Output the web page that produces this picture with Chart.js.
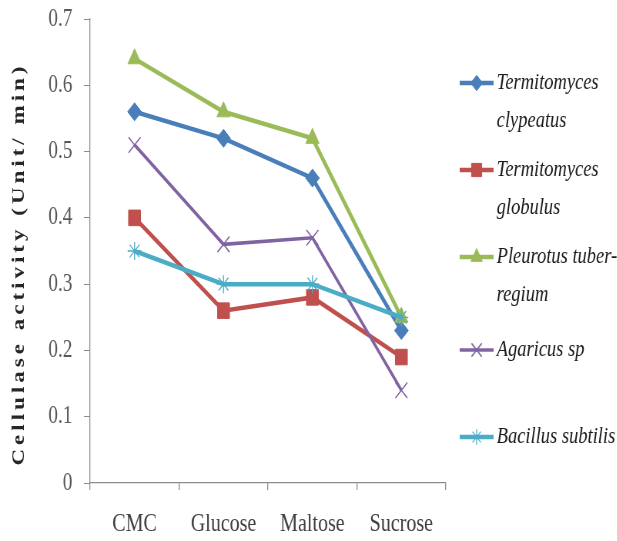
<!DOCTYPE html>
<html>
<head>
<meta charset="utf-8">
<script src="https://cdn.jsdelivr.net/npm/chart.js@4.4.0/dist/chart.umd.min.js"></script>
<style>
  html, body { margin: 0; padding: 0; background: #fff; overflow: hidden; }
  /* figure is drawn wide, then squeezed horizontally */
  #wrap { width: 801px; height: 541px; transform: scaleX(0.77); transform-origin: 0 0; }
</style>
</head>
<body>
<div id="wrap"><canvas id="chart" width="801" height="541"></canvas></div>
<script>
// substrates on the x axis
const categories = ["CMC", "Glucose", "Maltose", "Sucrose"];

// cellulase activity (Unit/min) per organism
const clypeatus = [0.56, 0.52, 0.46, 0.23];
const globulus = [0.40, 0.26, 0.28, 0.19];
const pleurotus = [0.64, 0.56, 0.52, 0.25];
const agaricus = [0.51, 0.36, 0.37, 0.14];
const bacillus = [0.35, 0.30, 0.30, 0.25];

const yTicks = [0, 0.1, 0.2, 0.3, 0.4, 0.5, 0.6, 0.7];
const yTitle = "Cellulase activity (Unit/ min)";

const SERIF = "'Liberation Serif', 'DejaVu Serif', serif";

function series(lines, data, color, style, radius, width, pbw) {
  return {
    label: lines.join(" "),
    legendLines: lines,
    data: data,
    borderColor: color,
    backgroundColor: color,
    borderWidth: width,
    pointStyle: style,
    pointRadius: radius,
    pointHoverRadius: radius,
    pointBackgroundColor: color,
    pointBorderColor: color,
    pointBorderWidth: pbw,
    tension: 0
  };
}

const datasets = [
  series(["Termitomyces", "clypeatus"], clypeatus, "#4a7ebb", "rectRot", 9, 4.5, 1),
  series(["Termitomyces", "globulus"], globulus, "#c0504d", "rect", 11, 4.5, 1),
  series(["Pleurotus tuber-", "regium"], pleurotus, "#9bbb59", "triangle", 10, 4.5, 1),
  series(["Agaricus sp"], agaricus, "#8064a2", "crossRot", 11, 3.5, 1.5),
  series(["Bacillus subtilis"], bacillus, "#4bacc6", "star", 9, 4.5, 1.3)
];
// later series sit on top of earlier ones
datasets.forEach((d, i) => { d.order = datasets.length - i; });

// rotated y axis title, letter-spaced
const yTitlePlugin = {
  id: "yTitle",
  afterDraw(chart) {
    const ctx = chart.ctx;
    const area = chart.chartArea;
    ctx.save();
    ctx.translate(25, (area.top + area.bottom) / 2 + 13);
    ctx.rotate(-Math.PI / 2);
    ctx.font = "bold 23px " + SERIF;
    ctx.letterSpacing = "4px";
    ctx.fillStyle = "#262626";
    ctx.textAlign = "center";
    ctx.textBaseline = "middle";
    ctx.fillText(yTitle, 0, 0);
    ctx.restore();
  }
};

// legend on the right, with wrapped series names
const legendRows = [83, 170, 257, 350, 437];
const sideLegend = {
  id: "sideLegend",
  afterDraw(chart) {
    const ctx = chart.ctx;
    chart.data.datasets.forEach((ds, i) => {
      const y = legendRows[i];
      ctx.save();
      ctx.strokeStyle = ds.borderColor;
      ctx.lineWidth = ds.borderWidth;
      ctx.beginPath();
      ctx.moveTo(597, y);
      ctx.lineTo(641, y);
      ctx.stroke();
      ctx.fillStyle = ds.pointBackgroundColor;
      ctx.strokeStyle = ds.pointBorderColor;
      ctx.lineWidth = ds.pointBorderWidth;
      Chart.helpers.drawPoint(ctx, {
        pointStyle: ds.pointStyle,
        radius: ds.pointRadius * 0.85,
        borderWidth: ds.pointBorderWidth,
        rotation: 0
      }, 619, y);
      ctx.restore();

      ctx.save();
      ctx.font = "italic 24px " + SERIF;
      ctx.fillStyle = "#1a1a1a";
      ctx.textBaseline = "middle";
      ds.legendLines.forEach((t, k) => ctx.fillText(t, 645, y + k * 38));
      ctx.restore();
    });
  }
};

new Chart(document.getElementById("chart"), {
  type: "line",
  data: { labels: categories, datasets: datasets },
  plugins: [yTitlePlugin, sideLegend],
  options: {
    responsive: false,
    animation: false,
    layout: { padding: { left: 0, right: 222, top: 19, bottom: 0 } },
    plugins: {
      legend: { display: false },
      tooltip: { enabled: false }
    },
    scales: {
      x: {
        offset: true,
        grid: {
          offset: true,
          drawOnChartArea: false,
          drawTicks: true,
          tickLength: 7,
          color: "#8c8c8c",
          lineWidth: 1.3
        },
        border: { color: "#8c8c8c", width: 1.3 },
        ticks: {
          color: "#404040",
          padding: 19,
          font: { family: SERIF, size: 26 },
          maxRotation: 0
        },
        afterFit(scale) { scale.height = 58; }
      },
      y: {
        min: 0,
        max: 0.7,
        grid: {
          drawOnChartArea: false,
          drawTicks: true,
          tickLength: 8,
          color: "#8c8c8c",
          lineWidth: 1
        },
        border: { color: "#8c8c8c", width: 1.3 },
        afterBuildTicks(scale) { scale.ticks = yTicks.map(v => ({ value: v })); },
        ticks: {
          color: "#595959",
          padding: 15,
          font: { family: SERIF, size: 25 },
          callback: v => (v === 0 ? "0" : v.toFixed(1))
        },
        afterFit(scale) {
          scale.width = 117;
          scale.paddingTop = 0;
          scale.paddingBottom = 0;
        }
      }
    }
  }
});
</script>
</body>
</html>
